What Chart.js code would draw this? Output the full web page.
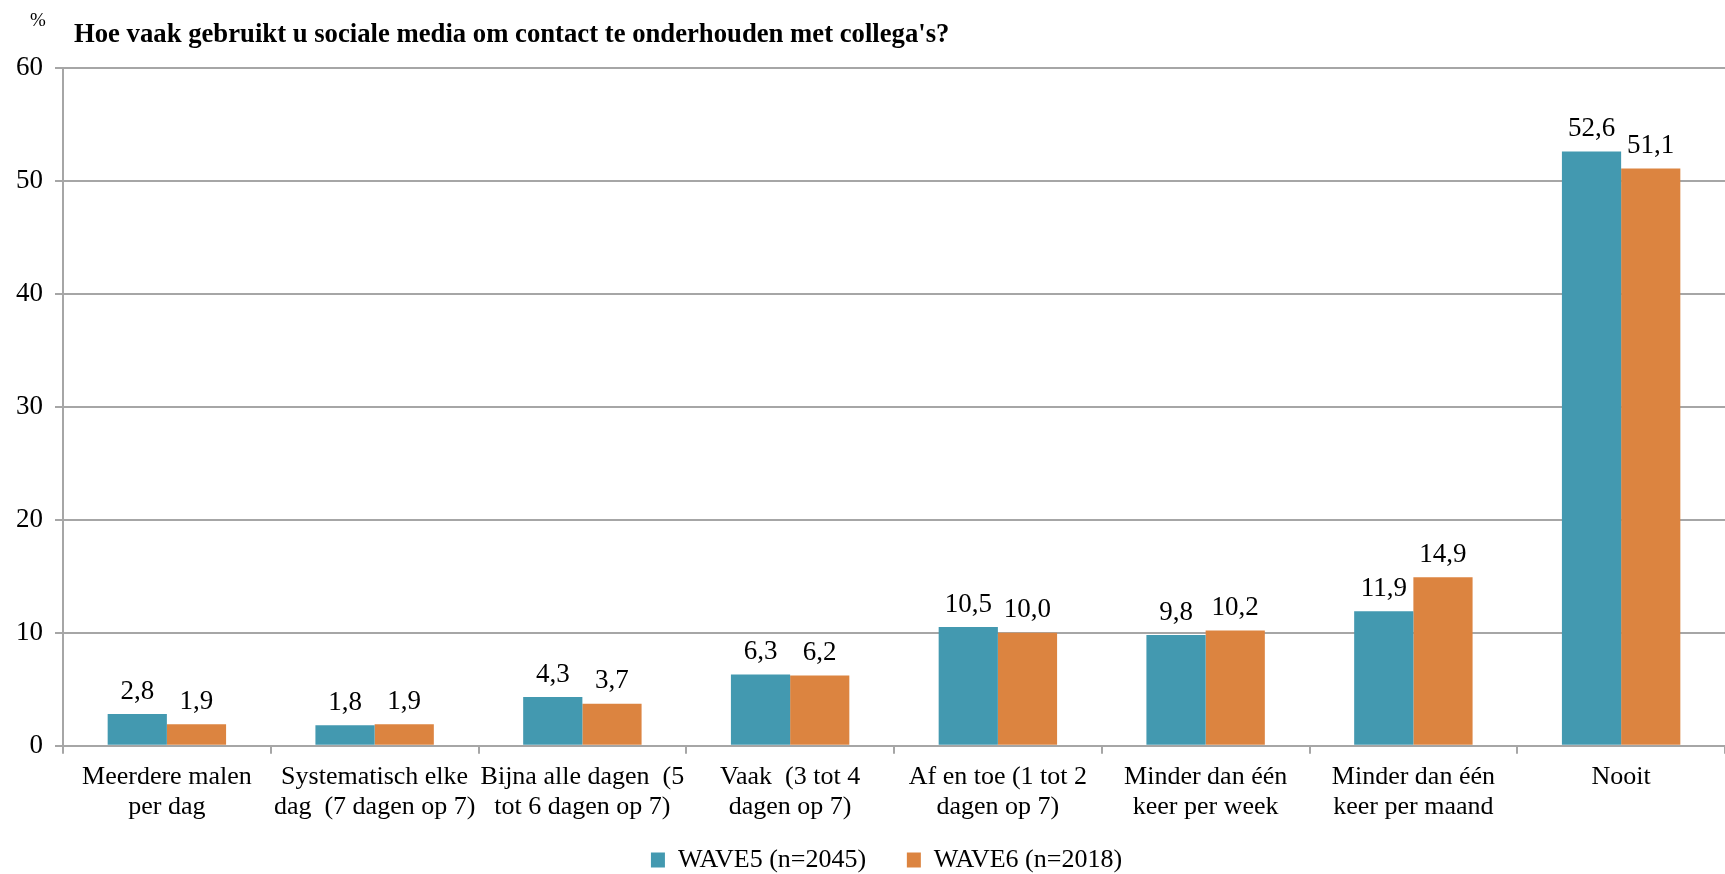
<!DOCTYPE html>
<html>
<head>
<meta charset="utf-8">
<script src="https://cdn.jsdelivr.net/npm/chart.js@4.4.0/dist/chart.umd.min.js"></script>
<style>
  html, body { margin: 0; padding: 0; background: #fff; }
  #wrap { width: 1725px; height: 874px; }
</style>
</head>
<body>
<div id="wrap"><canvas id="myChart" width="1725" height="874"></canvas></div>
<script>
// categorieen (x-as), op twee regels zoals in het origineel
const categorieen = [
    ["Meerdere malen", "per dag"],
    ["Systematisch elke", "dag  (7 dagen op 7)"],
    ["Bijna alle dagen  (5", "tot 6 dagen op 7)"],
    ["Vaak  (3 tot 4", "dagen op 7)"],
    ["Af en toe (1 tot 2", "dagen op 7)"],
    ["Minder dan één", "keer per week"],
    ["Minder dan één", "keer per maand"],
    ["Nooit"]
];
const wave5 = [2.8, 1.8, 4.3, 6.3, 10.5, 9.8, 11.9, 52.6];
const wave6 = [1.9, 1.9, 3.7, 6.2, 10.0, 10.2, 14.9, 51.1];
const yTicks = [0, 10, 20, 30, 40, 50, 60];
const reeksen = ['WAVE5 (n=2045)', 'WAVE6 (n=2018)'];

const titel = "Hoe vaak gebruikt u sociale media om contact te onderhouden met collega's?";
const FONT = "'Liberation Serif', 'Times New Roman', serif";

// eigen plugin: titel, % en de waarden boven de balken
const extraTekst = {
    id: 'extraTekst',
    afterLayout(chart) {
        // legenda staat in het origineel iets rechts van het midden
        chart.legend.left += 24;
        chart.legend.right += 24;
    },
    afterDatasetsDraw(chart) {
        const ctx = chart.ctx;
        ctx.save();
        ctx.fillStyle = '#000';
        ctx.font = "19px " + FONT;
        ctx.textAlign = 'left';
        ctx.textBaseline = 'middle';
        ctx.fillText('%', 30, 21);
        ctx.font = "bold 26.7px " + FONT;
        ctx.fillText(titel, 74, 35);

        ctx.font = "27px " + FONT;
        ctx.textAlign = 'center';
        ctx.textBaseline = 'bottom';
        chart.data.datasets.forEach((ds, i) => {
            const meta = chart.getDatasetMeta(i);
            meta.data.forEach((bar, j) => {
                const txt = ds.data[j].toFixed(1).replace('.', ',');
                ctx.fillText(txt, bar.x, bar.y - 9);
            });
        });
        ctx.restore();
    }
};

let myChart = new Chart(document.getElementById('myChart'), {
    type: 'bar',
    data: {
        labels: categorieen,
        datasets: [
            {
                label: reeksen[0],
                data: wave5,
                backgroundColor: '#4399b0',
                borderWidth: 0,
                categoryPercentage: 0.57,
                barPercentage: 1.0
            },
            {
                label: reeksen[1],
                data: wave6,
                backgroundColor: '#dc8440',
                borderWidth: 0,
                categoryPercentage: 0.57,
                barPercentage: 1.0
            }
        ]
    },
    options: {
        responsive: false,
        animation: false,
        layout: { padding: { top: 68, right: 0, left: 0, bottom: -9 } },
        scales: {
            x: {
                grid: { drawOnChartArea: false, drawTicks: true, tickLength: 8, color: '#a6a6a6', lineWidth: 2 },
                border: { color: '#a6a6a6', width: 2 },
                ticks: {
                    color: '#000',
                    font: { family: FONT, size: 26, lineHeight: 1.18 },
                    maxRotation: 0,
                    autoSkip: false,
                    padding: 8
                }
            },
            y: {
                min: 0,
                max: 60,
                afterBuildTicks(axis) {
                    axis.ticks = yTicks.map(v => ({ value: v }));
                },
                afterFit(axis) {
                    axis.width = 63;
                },
                grid: { color: '#a6a6a6', lineWidth: 2, tickLength: 8 },
                border: { color: '#a6a6a6', width: 2 },
                ticks: {
                    color: '#000',
                    font: { family: FONT, size: 27 },
                    padding: 12
                }
            }
        },
        plugins: {
            legend: {
                position: 'bottom',
                labels: {
                    color: '#000',
                    font: { family: FONT, size: 26 },
                    boxWidth: 14,
                    boxHeight: 15,
                    padding: 16,
                    // iets meer ruimte tussen de twee items
                    generateLabels(chart) {
                        const items = Chart.defaults.plugins.legend.labels.generateLabels(chart);
                        items[0].text = items[0].text + '   \u2009';
                        return items;
                    }
                }
            },
            tooltip: { enabled: false }
        }
    },
    plugins: [extraTekst]
});
</script>
</body>
</html>
